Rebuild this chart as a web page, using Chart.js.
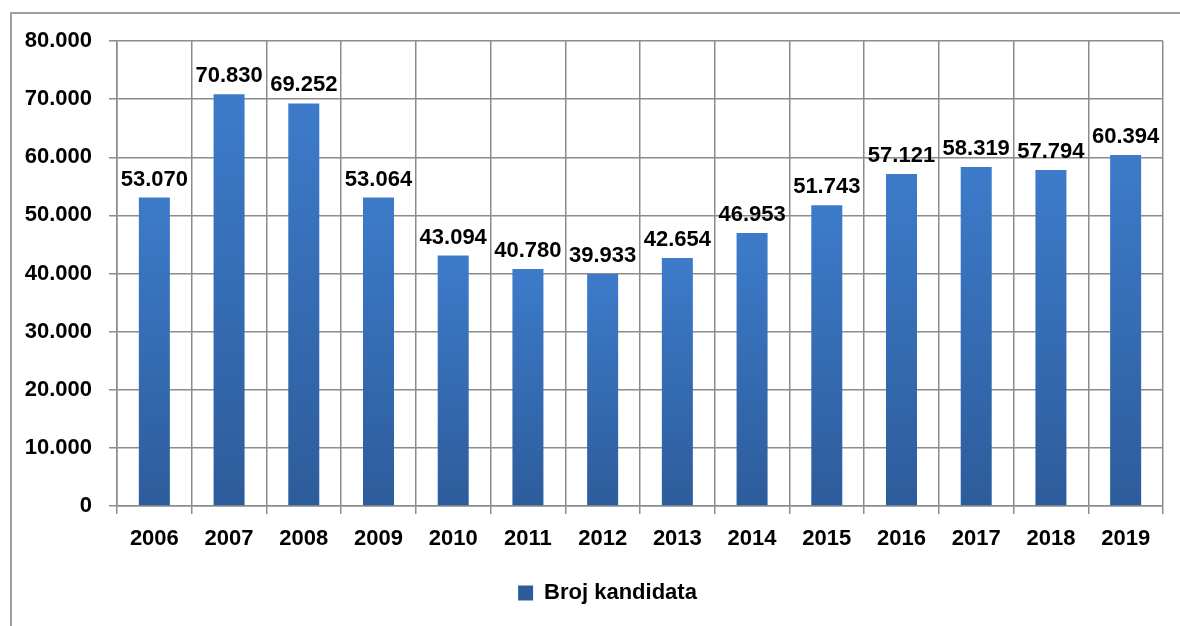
<!DOCTYPE html>
<html>
<head>
<meta charset="utf-8">
<script src="https://cdn.jsdelivr.net/npm/chart.js@4.4.1/dist/chart.umd.min.js"></script>
<style>
    body { margin: 0; background: #fff; }
    #wrap { position: relative; width: 1180px; height: 626px; overflow: hidden; }
    #frame { position: absolute; left: 10px; top: 12px; width: 1300px; height: 800px;
             border-left: 2px solid #a0a0a0; border-top: 2px solid #a0a0a0; }
    canvas { position: absolute; left: 0; top: 0; }
</style>
</head>
<body>
<div id="wrap">
    <div id="frame"></div>
    <canvas id="myChart" width="1180" height="626"></canvas>
</div>
<script>
var years = ['2006', '2007', '2008', '2009', '2010', '2011', '2012', '2013', '2014', '2015', '2016', '2017', '2018', '2019'];
var candidates = [53070, 70830, 69252, 53064, 43094, 40780, 39933, 42654, 46953, 51743, 57121, 58319, 57794, 60394];
var seriesName = 'Broj kandidata';

var fontFamily = '"Liberation Sans", Arial, sans-serif';
var fontSize = 22;

// 53070 -> "53.070"
function formatNumber(v) {
    return String(v).replace(/\B(?=(\d{3})+(?!\d))/g, '.');
}

// each bar gets its own light-to-dark gradient
function barColor(context) {
    var chart = context.chart;
    var yScale = chart.scales.y;
    if (context.dataIndex === undefined || !yScale || !chart.chartArea) {
        return '#3a74be';
    }
    var top = yScale.getPixelForValue(context.raw);
    var bottom = yScale.getPixelForValue(0);
    var g = chart.ctx.createLinearGradient(0, top, 0, bottom);
    g.addColorStop(0, '#3d7bca');
    g.addColorStop(1, '#2d5c9b');
    return g;
}

var valueLabels = {
    id: 'valueLabels',
    afterDatasetsDraw: function (chart) {
        var ctx = chart.ctx;
        var meta = chart.getDatasetMeta(0);
        ctx.save();
        ctx.font = 'bold ' + fontSize + 'px ' + fontFamily;
        ctx.fillStyle = '#000';
        ctx.textAlign = 'center';
        ctx.textBaseline = 'alphabetic';
        meta.data.forEach(function (bar, i) {
            ctx.fillText(formatNumber(chart.data.datasets[0].data[i]), bar.x, bar.y - 12);
        });
        ctx.restore();
    }
};

// the legend sits a bit right of the canvas centre in the original
var legendShift = {
    id: 'legendShift',
    afterLayout: function (chart) {
        chart.legend.left += 26;
        chart.legend.right += 26;
    }
};

var ctx = document.getElementById('myChart').getContext('2d');
var chart = new Chart(ctx, {
    type: 'bar',
    data: {
        labels: years,
        datasets: [{
            label: seriesName,
            data: candidates,
            backgroundColor: barColor,
            borderWidth: 0,
            barPercentage: 0.415,
            categoryPercentage: 1
        }]
    },
    options: {
        responsive: false,
        animation: false,
        layout: { padding: { top: 41, right: 17, bottom: 12, left: 0 } },
        plugins: {
            legend: {
                position: 'bottom',
                labels: {
                    boxWidth: 15,
                    boxHeight: 15,
                    padding: 14,
                    color: '#000',
                    font: { family: fontFamily, size: fontSize, weight: 'bold' }
                }
            },
            tooltip: { enabled: false }
        },
        scales: {
            x: {
                grid: { color: '#8c8c8c', lineWidth: 1.5, tickLength: 8, offset: true },
                border: { color: '#8c8c8c', width: 1.5 },
                ticks: {
                    color: '#000',
                    padding: 12,
                    maxRotation: 0,
                    font: { family: fontFamily, size: fontSize, weight: 'bold' }
                },
                afterFit: function (scale) { scale.height = 62; }
            },
            y: {
                min: 0,
                max: 80000,
                grid: { color: '#8c8c8c', lineWidth: 1.5, tickLength: 8 },
                border: { color: '#8c8c8c', width: 1.5 },
                ticks: {
                    stepSize: 10000,
                    color: '#000',
                    padding: 17,
                    font: { family: fontFamily, size: fontSize, weight: 'bold' },
                    callback: function (v) { return formatNumber(v); }
                },
                afterFit: function (scale) { scale.width = 117; }
            }
        }
    },
    plugins: [valueLabels, legendShift]
});
</script>
</body>
</html>
